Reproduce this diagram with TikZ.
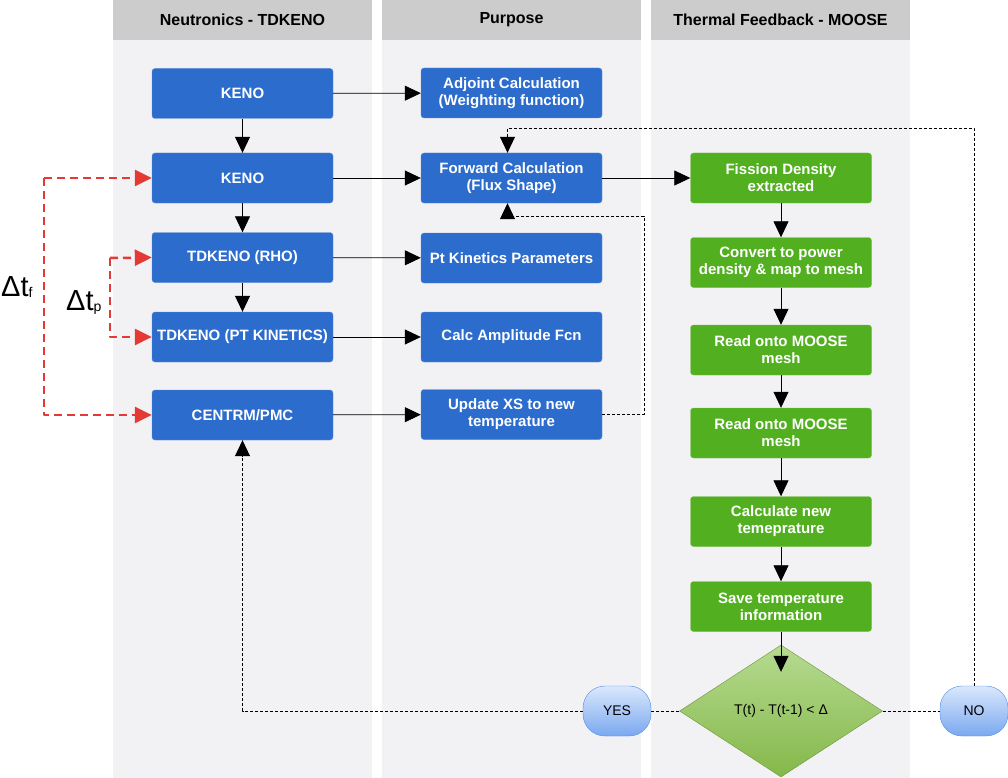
\documentclass[tikz,border=0pt]{standalone}
\usepackage{fontspec}
\setmainfont{Liberation Sans}
\usetikzlibrary{arrows.meta,shapes.geometric}
\definecolor{hdrgray}{RGB}{204,204,204}
\definecolor{lanegray}{RGB}{242,242,244}
\definecolor{boxblue}{RGB}{44,108,205}
\definecolor{boxblueline}{RGB}{92,140,215}
\definecolor{boxgreen}{RGB}{82,176,32}
\definecolor{boxgreenline}{RGB}{120,190,80}
\definecolor{dectop}{RGB}{182,218,144}
\definecolor{decbot}{RGB}{132,184,74}
\definecolor{decline}{RGB}{108,150,60}
\definecolor{pilltop}{RGB}{218,232,252}
\definecolor{pillbot}{RGB}{122,168,240}
\definecolor{pillline}{RGB}{80,140,230}
\definecolor{dtred}{RGB}{229,57,53}
\tikzset{
  bluebox/.style={draw=boxblueline, fill=boxblue, rounded corners=3pt, minimum width=181pt, minimum height=50pt, text=white, align=center, font=\fontsize{15}{17}\selectfont\bfseries},
  greenbox/.style={bluebox, draw=boxgreenline, fill=boxgreen},
  hdr/.style={font=\fontsize{16}{18}\selectfont\bfseries},
  pill/.style={draw=pillline, top color=pilltop, bottom color=pillbot, rounded corners=22pt, minimum width=68pt, minimum height=50pt, font=\fontsize{14}{16}\selectfont},
  arr/.style={-{Triangle[length=16pt,width=15pt]}, line width=0.8pt},
  loop/.style={dash pattern=on 3pt off 2pt, line width=0.8pt},
  dt/.style={dtred, line width=2.5pt, dash pattern=on 8pt off 5pt, line cap=butt, -{Triangle[length=17pt,width=16pt]}}
}
\begin{document}
\begin{tikzpicture}[x=1pt,y=-1pt, line join=round]
\useasboundingbox (0,0) rectangle (1008,778);
\def\ca{242.5} \def\cb{511.5} \def\cc{781} % column centres
% lanes
\foreach \l/\t in {113/Neutronics - TDKENO, 382/Purpose, 651/Thermal Feedback - MOOSE} {
  \fill[lanegray] (\l,40) rectangle (\l+259,778);
  \fill[hdrgray] (\l,0) rectangle (\l+259,40);
  \node[hdr] at (\l+129.5,20) {\t};
}
% neutronics
\node[bluebox] (keno1) at (\ca,93.5) {KENO};
\node[bluebox] (keno2) at (\ca,178) {KENO};
\node[bluebox] (rho) at (\ca,257.5) {TDKENO (RHO)};
\node[bluebox] (ptk) at (\ca,337) {TDKENO (PT KINETICS)};
\node[bluebox] (centrm) at (\ca,415) {CENTRM/PMC};
% purpose
\node[bluebox] (adj) at (\cb,93) {Adjoint Calculation\\(Weighting function)};
\node[bluebox] (fwd) at (\cb,178) {Forward Calculation\\(Flux Shape)};
\node[bluebox] (pkp) at (\cb,258) {Pt Kinetics Parameters};
\node[bluebox] (amp) at (\cb,337) {Calc Amplitude Fcn};
\node[bluebox] (upd) at (\cb,414.5) {Update XS to new\\temperature};
% thermal feedback
\node[greenbox] (fis) at (\cc,178) {Fission Density\\extracted};
\node[greenbox] (conv) at (\cc,262.5) {Convert to power\\density \& map to mesh};
\node[greenbox] (rd1) at (\cc,350) {Read onto MOOSE\\mesh};
\node[greenbox] (rd2) at (\cc,433) {Read onto MOOSE\\mesh};
\node[greenbox] (calc) at (\cc,521.5) {Calculate new\\temeprature};
\node[greenbox] (save) at (\cc,606.5) {Save temperature\\information};
\node[diamond, draw=decline, top color=dectop, bottom color=decbot, minimum width=203pt, minimum height=132pt, inner sep=0pt, font=\fontsize{14}{16}\selectfont] (dec) at (\cc,711) {T(t) - T(t-1) < Δ};
\node[pill] (yes) at (617,711) {YES};
\node[pill] (no) at (974,711) {NO};
% solid arrows
\draw[arr] (keno1) -- (adj);
\draw[arr] (keno1) -- (keno2);
\draw[arr] (keno2) -- (fwd);
\draw[arr] (keno2) -- (rho);
\draw[arr] (rho) -- (pkp);
\draw[arr] (rho) -- (ptk);
\draw[arr] (ptk) -- (amp);
\draw[arr] (centrm) -- (upd);
\draw[arr] (fwd) -- (fis);
\draw[arr] (fis) -- (conv);
\draw[arr] (conv) -- (rd1);
\draw[arr] (rd1) -- (rd2);
\draw[arr] (rd2) -- (calc);
\draw[arr] (calc) -- (save);
\draw[arr] (save) -- ([yshift=-27pt]dec.north);
% feedback loops
\coordinate (upr) at (644,216);
\coordinate (nor) at (974,128);
\draw[loop] (dec) -- (yes);
\draw[loop] (dec) -- (no);
\draw[loop,arr] (yes.west) -| (centrm.south);
\draw[loop,arr] (no.north) |- (nor) -| ([xshift=-4pt]fwd.north);
\draw[loop,arr] (upd.east) -| (upr) -| ([xshift=-4pt]fwd.south);
% time steps
\coordinate (tf) at (44,178); \coordinate (tp) at (110,258);
\draw[dt] (tf) -- (keno2.west);
\draw[dt] (tf) |- (centrm.west);
\draw[dt] (tp) -- (rho.west);
\draw[dt] (tp) |- (ptk.west);
\node[anchor=west, inner sep=0pt] (lf) at (1,287) {\fontsize{29}{29}\selectfont Δt\raisebox{-1pt}{\fontsize{14}{14}\selectfont f}};
\node[anchor=west, inner sep=0pt] (lp) at (66,302) {\fontsize{29}{29}\selectfont Δt\raisebox{-1pt}{\fontsize{14}{14}\selectfont p}};
\end{tikzpicture}
\end{document}
